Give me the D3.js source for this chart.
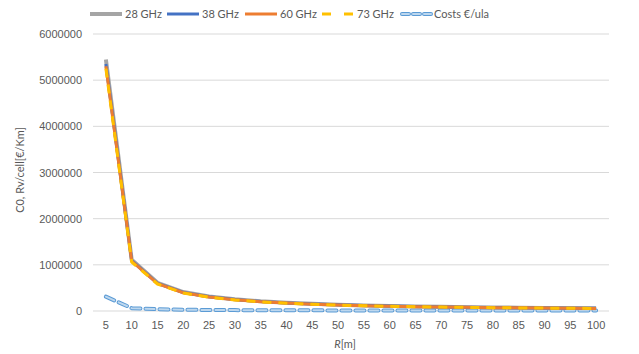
<!DOCTYPE html>
<html>
<head>
<meta charset="utf-8">
<script src="https://cdn.jsdelivr.net/npm/d3@7"></script>
<style>
  html, body { margin: 0; padding: 0; background: #fff; }
  svg { display: block; font-family: Lato, "Open Sans", sans-serif; }
</style>
</head>
<body>
<svg id="chart" width="639" height="354"></svg>
<script>
// Cell radius R in metres
const radii = [5, 10, 15, 20, 25, 30, 35, 40, 45, 50, 55, 60, 65, 70, 75, 80, 85, 90, 95, 100];

// Revenue per cell per km, by carrier frequency
const rv28 = [5450000, 1110000, 610000, 410000, 315000, 255000, 210000, 178000, 155000, 136000, 121000, 108000, 98000, 90000, 83000, 77000, 72000, 67000, 63000, 59000];
const rv38 = [5350000, 1090000, 600000, 400000, 308000, 248000, 205000, 174000, 151000, 133000, 118000, 106000, 96000, 88000, 81000, 75000, 70000, 65000, 61000, 57000];
const rv60 = [5300000, 1080000, 592000, 395000, 303000, 244000, 202000, 171000, 148000, 130000, 116000, 104000, 94000, 86000, 79000, 73000, 68000, 64000, 60000, 56000];
const rv73 = [5250000, 1060000, 585000, 390000, 298000, 240000, 199000, 168000, 146000, 128000, 114000, 102000, 92000, 84000, 78000, 72000, 67000, 63000, 59000, 55000];
// Cost per unit area
const costs = [310000, 62000, 38000, 28000, 22000, 19000, 17000, 15000, 14000, 13000, 12000, 11500, 11000, 10500, 10000, 9800, 9500, 9200, 9000, 8800];

const yTicks = [0, 1000000, 2000000, 3000000, 4000000, 5000000, 6000000];

const series = [
  { name: "28 GHz", values: rv28, color: "#a5a5a5", width: 4, dash: null },
  { name: "38 GHz", values: rv38, color: "#4472c4", width: 3, dash: null },
  { name: "60 GHz", values: rv60, color: "#ed7d31", width: 3, dash: null },
  { name: "73 GHz", values: rv73, color: "#ffc000", width: 3, dash: "9,7" }
];

const svg = d3.select("#chart");
const margin = { left: 93, right: 30, top: 34, bottom: 43 };
const W = 639, H = 354;

const x = d3.scaleBand().domain(radii).range([margin.left, W - margin.right]);
const y = d3.scaleLinear().domain([0, 6000000]).range([H - margin.bottom, margin.top]);
const cx = d => x(d) + x.bandwidth() / 2;

// Horizontal gridlines
svg.append("g").selectAll("line").data(yTicks).join("line")
  .attr("x1", margin.left).attr("x2", W - margin.right)
  .attr("y1", d => y(d)).attr("y2", d => y(d))
  .attr("stroke", "#d9d9d9").attr("stroke-width", 1);

// Y axis tick labels
const yAxis = d3.axisLeft(y).tickValues(yTicks).tickFormat(d3.format("d")).tickSize(0).tickPadding(11);
const gy = svg.append("g").attr("transform", `translate(${margin.left},0)`).call(yAxis);
gy.select(".domain").remove();
gy.selectAll("text").attr("fill", "#595959").style("font-size", "11px");

// X axis tick labels
const xAxis = d3.axisBottom(x).tickSize(0).tickPadding(10);
const gx = svg.append("g").attr("transform", `translate(0,${H - margin.bottom})`).call(xAxis);
gx.select(".domain").remove();
gx.selectAll("text").attr("fill", "#595959").style("font-size", "11px");

// Axis titles
const xt = svg.append("text").attr("x", 345).attr("y", 348).attr("text-anchor", "middle")
  .attr("fill", "#595959").style("font-size", "11px");
xt.append("tspan").attr("font-style", "italic").text("R");
xt.append("tspan").text("[m]");

svg.append("text").attr("transform", "translate(24,170) rotate(-90)").attr("text-anchor", "middle")
  .attr("fill", "#595959").style("font-size", "11px").text("C0, Rv/cell[€/Km]");

const line = d3.line().x((d, i) => cx(radii[i])).y(d => y(d));

// Cost line: outlined dashes
const cg = svg.append("g");
cg.append("path").attr("d", line(costs)).attr("fill", "none")
  .attr("stroke", "#5b9bd5").attr("stroke-width", 4).attr("stroke-dasharray", "9,5")
  .attr("stroke-linecap", "round").attr("stroke-linejoin", "round");
cg.append("path").attr("d", line(costs)).attr("fill", "none")
  .attr("stroke", "#bdd7ee").attr("stroke-width", 2).attr("stroke-dasharray", "9,5")
  .attr("stroke-linecap", "round").attr("stroke-linejoin", "round");

// Frequency lines
svg.append("g").selectAll("path").data(series).join("path")
  .attr("d", s => line(s.values)).attr("fill", "none")
  .attr("stroke", s => s.color).attr("stroke-width", s => s.width)
  .attr("stroke-dasharray", s => s.dash)
  .attr("stroke-linejoin", "round");

// Legend
const legendItems = [
  { name: "28 GHz", color: "#a5a5a5", width: 4, dash: null, x: 90 },
  { name: "38 GHz", color: "#4472c4", width: 3, dash: null, x: 167 },
  { name: "60 GHz", color: "#ed7d31", width: 3, dash: null, x: 245 },
  { name: "73 GHz", color: "#ffc000", width: 3, dash: "9,13", x: 322 },
  { name: "Costs €/ula", color: "cost", width: 3, dash: null, x: 400 }
];
const ly = 14;
const lg = svg.append("g");
legendItems.forEach(it => {
  if (it.color === "cost") {
    lg.append("line").attr("x1", it.x + 2).attr("x2", it.x + 31).attr("y1", ly).attr("y2", ly)
      .attr("stroke", "#5b9bd5").attr("stroke-width", 4).attr("stroke-dasharray", "7,4").attr("stroke-linecap", "round");
    lg.append("line").attr("x1", it.x + 2).attr("x2", it.x + 31).attr("y1", ly).attr("y2", ly)
      .attr("stroke", "#bdd7ee").attr("stroke-width", 2).attr("stroke-dasharray", "7,4").attr("stroke-linecap", "round");
  } else {
    lg.append("line").attr("x1", it.x).attr("x2", it.x + 32).attr("y1", ly).attr("y2", ly)
      .attr("stroke", it.color).attr("stroke-width", it.width).attr("stroke-dasharray", it.dash);
  }
  lg.append("text").attr("x", it.x + (it.color === "cost" ? 34 : 35)).attr("y", ly + 4)
    .attr("fill", "#595959").style("font-size", "11px").text(it.name);
});
</script>
</body>
</html>
